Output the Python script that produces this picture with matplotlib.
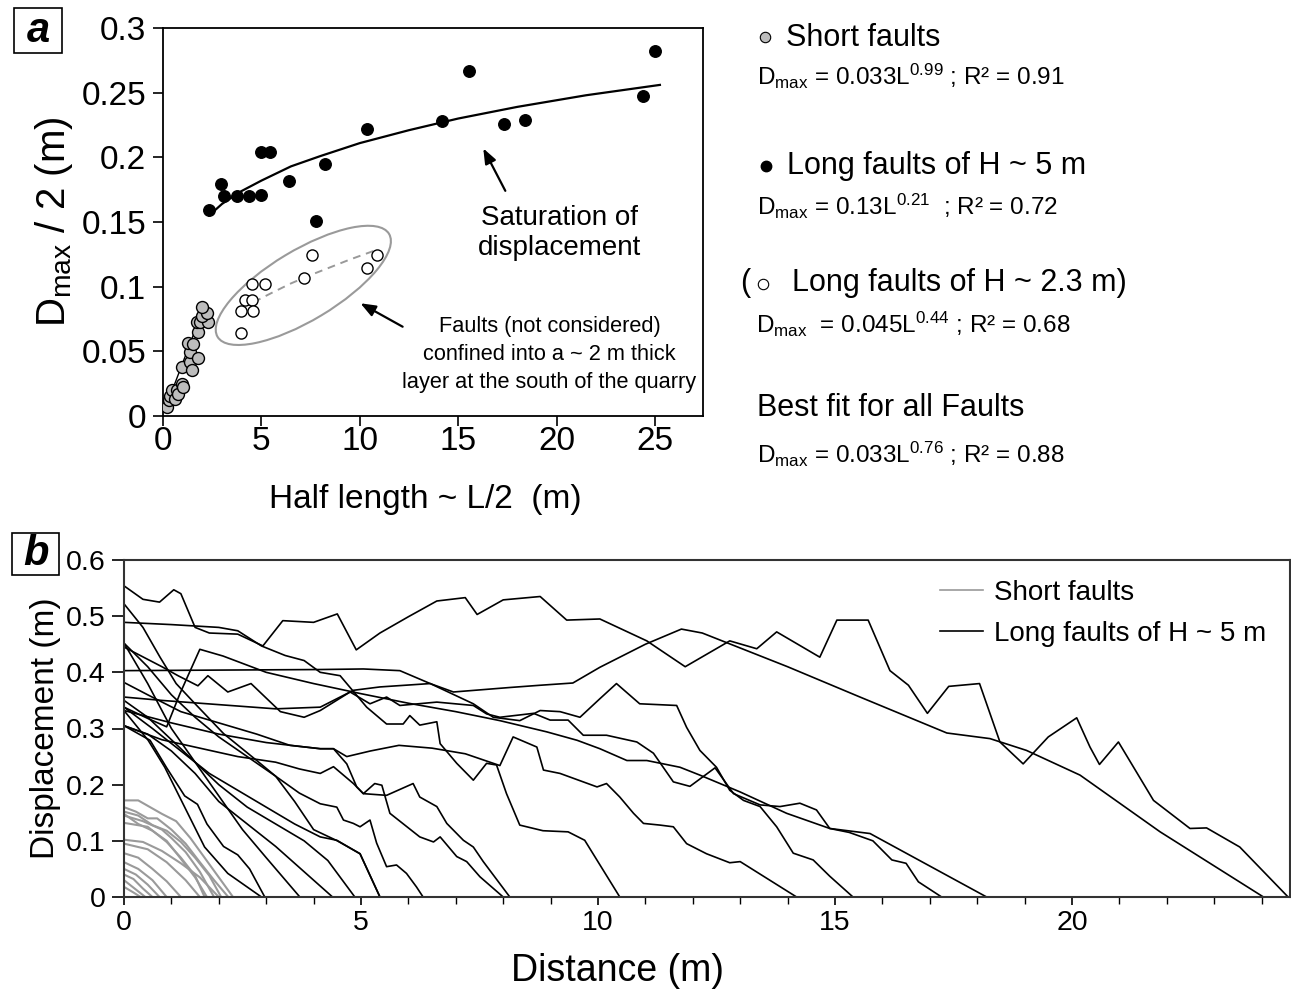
import numpy as np
import matplotlib
matplotlib.use("Agg")
from matplotlib import pyplot as plt
from matplotlib import transforms
from matplotlib.patches import Ellipse, Rectangle
from matplotlib.lines import Line2D
from matplotlib.ticker import MultipleLocator, FormatStrFormatter

plt.rcParams["font.family"] = ["Liberation Sans", "DejaVu Sans"]
plt.rcParams["mathtext.fontset"] = "custom"
plt.rcParams["mathtext.rm"] = "Liberation Sans"
plt.rcParams["mathtext.it"] = "Liberation Sans:italic"

# ---- panel a data (half length L/2, Dmax/2) ----
short_x = [0.19, 0.32, 0.36, 0.44, 0.61, 0.70, 0.78, 0.95, 1.00, 0.95, 1.37, 1.46,
           1.37, 1.76, 1.29, 1.54, 1.80, 1.71, 1.88, 2.30, 1.97, 2.22, 1.97]
short_y = [0.0072, 0.0124, 0.0155, 0.0201, 0.0129, 0.0201, 0.0170, 0.0245, 0.0222,
           0.0381, 0.0420, 0.0356, 0.0497, 0.0446, 0.0562, 0.0557, 0.0652, 0.0724,
           0.0729, 0.0724, 0.0773, 0.0794, 0.0845]
short_fit_x = [0.15, 2.05]
short_fit_y = [0.007, 0.083]

long5_x = [2.34, 2.93, 3.10, 3.74, 4.35, 4.96, 4.96, 5.44, 6.42, 8.21, 7.77, 10.38,
           14.19, 15.57, 17.34, 18.39, 24.37, 25.02]
long5_y = [0.159, 0.179, 0.170, 0.170, 0.170, 0.171, 0.204, 0.204, 0.182, 0.195,
           0.1505, 0.222, 0.228, 0.2666, 0.226, 0.2287, 0.2477, 0.2823]
long5_fit_x = [2.34, 3, 4, 5, 6.5, 8, 10, 12.5, 15, 18, 21.5, 25.25]
long5_fit_y = [0.155, 0.164, 0.174, 0.182, 0.193, 0.201, 0.211, 0.221, 0.230,
               0.239, 0.248, 0.256]

long23_x = [3.95, 3.96, 4.15, 4.54, 4.59, 4.54, 5.18, 7.16, 7.59, 10.35, 10.89]
long23_y = [0.0645, 0.0815, 0.0897, 0.0897, 0.0815, 0.1023, 0.1023, 0.1064,
            0.1247, 0.1147, 0.1247]
long23_fit_x = [4.6, 5.5, 6.5, 7.5, 8.5, 9.5, 10.9]
long23_fit_y = [0.088, 0.095, 0.1025, 0.109, 0.115, 0.121, 0.1287]

# ---- panel b data: displacement profiles (distance m, displacement m) ----
short_profiles = [
    ([0, 0.3, 0.55, 0.8, 1.1, 1.4, 1.7, 2.0, 2.3], [0.172, 0.172, 0.160, 0.148, 0.135, 0.105, 0.070, 0.035, 0.0]),
    ([0, 0.25, 0.5, 0.7, 1.0, 1.3, 1.6, 1.9, 2.2], [0.160, 0.152, 0.140, 0.140, 0.120, 0.095, 0.062, 0.030, 0.0]),
    ([0, 0.3, 0.6, 0.9, 1.2, 1.5, 1.8, 2.05], [0.152, 0.145, 0.128, 0.118, 0.098, 0.070, 0.038, 0.0]),
    ([0, 0.4, 0.8, 1.0, 1.3, 1.6, 1.9], [0.145, 0.135, 0.120, 0.105, 0.080, 0.045, 0.0]),
    ([0, 0.3, 0.6, 0.9, 1.2, 1.5, 1.75], [0.148, 0.130, 0.118, 0.100, 0.068, 0.035, 0.0]),
    ([0, 0.5, 0.9, 1.2, 1.5, 1.7], [0.132, 0.125, 0.098, 0.070, 0.038, 0.0]),
    ([0, 0.4, 0.8, 1.2, 1.6, 2.0], [0.102, 0.098, 0.082, 0.060, 0.035, 0.0]),
    ([0, 0.5, 0.9, 1.3, 1.6], [0.095, 0.085, 0.062, 0.030, 0.0]),
    ([0, 0.3, 0.6, 0.9, 1.2], [0.078, 0.070, 0.050, 0.028, 0.0]),
    ([0, 0.3, 0.6, 0.9], [0.062, 0.050, 0.030, 0.0]),
    ([0, 0.25, 0.5, 0.75], [0.050, 0.040, 0.022, 0.0]),
    ([0, 0.2, 0.4, 0.6], [0.040, 0.032, 0.015, 0.0]),
    ([0, 0.15, 0.3, 0.45], [0.030, 0.020, 0.010, 0.0]),
    ([0, 0.2, 0.35], [0.018, 0.008, 0.0]),
]

long_profiles = [
    ([0, 0.4, 0.75, 1.05, 1.2, 1.5, 1.8, 2.4, 2.93, 3.35, 4.0, 4.5, 4.9, 5.4, 6.0, 6.6,
      7.2, 7.45, 8.0, 8.78, 9.34, 10.04, 11.03, 11.84, 12.78, 13.35, 13.77, 14.68,
      15.04, 15.70, 16.16, 16.55, 16.95, 17.4, 18.05, 18.48, 18.97, 19.5, 20.10,
      20.38, 20.58, 20.98, 21.72, 22.49, 22.84, 23.54, 24.56],
     [0.554, 0.530, 0.525, 0.547, 0.540, 0.480, 0.470, 0.468, 0.447, 0.492, 0.489,
      0.504, 0.440, 0.470, 0.499, 0.527, 0.533, 0.503, 0.529, 0.535, 0.493, 0.495,
      0.456, 0.410, 0.456, 0.442, 0.472, 0.427, 0.493, 0.493, 0.403, 0.377, 0.327,
      0.375, 0.380, 0.276, 0.237, 0.285, 0.319, 0.267, 0.236, 0.276, 0.172, 0.122,
      0.123, 0.089, 0.0]),
    ([0, 0.4, 0.76, 1.1, 1.5, 2.1, 2.8, 3.2, 3.6, 4.0, 4.5, 4.98, 5.4],
     [0.522, 0.480, 0.427, 0.380, 0.344, 0.291, 0.243, 0.215, 0.170, 0.120, 0.100, 0.077, 0.0]),
    ([0, 1.0, 2.0, 2.4, 2.9, 3.4, 3.8, 4.14, 4.56, 5.12, 5.54, 5.89, 6.03, 6.24, 6.60,
      6.67, 7.02, 7.37, 7.65, 7.86, 8.07, 8.35, 8.84, 9.37, 9.72, 10.46],
     [0.489, 0.485, 0.480, 0.474, 0.447, 0.430, 0.421, 0.400, 0.394, 0.338, 0.308,
      0.308, 0.323, 0.306, 0.312, 0.273, 0.238, 0.208, 0.238, 0.235, 0.184, 0.128,
      0.118, 0.116, 0.101, 0.0]),
    ([0, 2, 4.14, 5.05, 5.82, 6.46, 6.95, 8.14, 8.78, 9.47, 10.04, 11.0, 11.76, 12.2,
      12.71, 14.0, 15.5, 17.36, 18.27, 19.04, 20.17, 21.86, 24.04],
     [0.403, 0.404, 0.405, 0.406, 0.403, 0.380, 0.365, 0.373, 0.377, 0.381, 0.409,
      0.450, 0.477, 0.470, 0.453, 0.410, 0.357, 0.292, 0.282, 0.261, 0.217, 0.116, 0.0]),
    ([0, 0.5, 0.9, 1.18, 1.6, 2.09, 3, 4, 5, 6, 7, 7.93, 8.92, 9.56, 10.04, 10.61, 11.03,
      11.73, 12.15, 13.0, 13.98, 14.89, 15.74, 18.2],
     [0.338, 0.318, 0.303, 0.362, 0.441, 0.429, 0.400, 0.380, 0.362, 0.345, 0.330, 0.314,
      0.294, 0.279, 0.264, 0.243, 0.243, 0.231, 0.217, 0.187, 0.149, 0.122, 0.113, 0.0]),
    ([0, 0.8, 1.14, 1.56, 1.77, 2.19, 2.68, 3.3, 3.8, 4.14, 4.77, 5.19, 5.54, 5.82, 6.6,
      7.37, 7.65, 7.93, 8.64, 8.99, 9.37, 9.69, 10.18, 10.82, 11.17, 11.59, 11.94,
      12.47, 12.86, 13.42, 13.84, 14.26, 14.61, 14.89, 15.3, 15.8, 16.2, 16.5, 16.76, 17.25],
     [0.445, 0.41, 0.394, 0.376, 0.394, 0.365, 0.380, 0.33, 0.32, 0.332, 0.365, 0.344,
      0.356, 0.341, 0.347, 0.341, 0.326, 0.320, 0.327, 0.315, 0.315, 0.288, 0.288,
      0.276, 0.256, 0.205, 0.197, 0.230, 0.184, 0.164, 0.161, 0.167, 0.155, 0.122,
      0.115, 0.100, 0.066, 0.060, 0.027, 0.0]),
    ([0, 0.8, 1.6, 2.4, 3.2, 4.14, 4.84, 5.4, 6.46, 7.37, 7.79, 8.35, 8.78, 9.2, 9.62,
      10.04, 10.39, 10.88, 11.66, 11.87, 12.15, 12.5, 12.78, 13.07, 13.42, 13.77,
      14.12, 14.54, 14.89, 15.38],
     [0.356, 0.35, 0.345, 0.34, 0.335, 0.338, 0.368, 0.374, 0.380, 0.344, 0.320, 0.314,
      0.332, 0.330, 0.320, 0.353, 0.380, 0.344, 0.341, 0.302, 0.261, 0.231, 0.190,
      0.172, 0.161, 0.125, 0.078, 0.066, 0.037, 0.0]),
    ([0, 1, 2, 3, 4.14, 4.42, 4.7, 5.2, 5.8, 6.5, 7.2, 7.93, 8.21, 8.71, 8.85, 9.2,
      9.98, 10.18, 10.46, 10.75, 10.96, 11.31, 11.59, 11.87, 12.29, 12.78, 13.0, 14.19],
     [0.332, 0.31, 0.29, 0.275, 0.264, 0.264, 0.25, 0.26, 0.27, 0.265, 0.255, 0.234,
      0.285, 0.267, 0.226, 0.220, 0.196, 0.202, 0.178, 0.149, 0.131, 0.128, 0.125,
      0.095, 0.077, 0.061, 0.063, 0.0]),
    ([0, 0.8, 1.6, 2.4, 3.2, 3.7, 4.14, 4.42, 4.84, 5.05, 5.54, 6.10, 6.24, 6.60, 6.81,
      7.16, 7.37, 7.58, 8.14],
     [0.305, 0.28, 0.265, 0.25, 0.24, 0.228, 0.220, 0.232, 0.202, 0.184, 0.181, 0.202,
      0.178, 0.161, 0.131, 0.101, 0.089, 0.063, 0.0]),
    ([0, 0.5, 1.2, 2, 2.8, 3.5, 4.14, 4.42, 4.70, 4.91, 5.05, 5.29, 5.44, 5.61, 6.24,
      6.53, 6.67, 7.02, 7.23, 7.51, 8.0],
     [0.382, 0.36, 0.33, 0.31, 0.29, 0.27, 0.264, 0.264, 0.237, 0.196, 0.184, 0.202,
      0.199, 0.149, 0.107, 0.098, 0.107, 0.072, 0.063, 0.036, 0.0]),
    ([0, 0.5, 1.0, 1.5, 2.0, 2.6, 3.2, 3.7, 4.14, 4.49, 4.63, 4.84, 4.98, 5.19, 5.33,
      5.54, 5.75, 5.96, 6.17, 6.31],
     [0.452, 0.41, 0.36, 0.32, 0.285, 0.25, 0.215, 0.185, 0.166, 0.160, 0.137, 0.131,
      0.125, 0.137, 0.096, 0.054, 0.057, 0.042, 0.018, 0.0]),
    ([0, 0.6, 1.2, 1.8, 2.4, 3.0, 3.6, 4.14, 4.49, 4.98, 5.40],
     [0.338, 0.30, 0.26, 0.22, 0.19, 0.16, 0.13, 0.107, 0.101, 0.077, 0.0]),
    ([0, 0.5, 1.0, 1.5, 2.0, 2.6, 3.2, 3.8, 4.3, 4.87],
     [0.350, 0.32, 0.28, 0.24, 0.20, 0.16, 0.13, 0.10, 0.065, 0.0]),
    ([0, 0.5, 1.0, 1.5, 2.0, 2.6, 3.2, 3.8, 4.4],
     [0.305, 0.29, 0.26, 0.22, 0.17, 0.13, 0.09, 0.045, 0.0]),
    ([0, 0.5, 1.0, 1.5, 2.0, 2.5, 3.0, 3.71],
     [0.452, 0.38, 0.30, 0.24, 0.18, 0.12, 0.07, 0.0]),
    ([0, 0.51, 0.86, 1.28, 1.70, 2.19, 2.90],
     [0.332, 0.279, 0.231, 0.160, 0.089, 0.042, 0.0]),
    ([0, 0.55, 0.9, 1.28, 1.55, 1.75, 2.1, 2.4, 2.65, 2.97],
     [0.305, 0.279, 0.23, 0.18, 0.165, 0.13, 0.09, 0.075, 0.05, 0.0]),
]

W, H = 1291, 991
fig = plt.figure(figsize=(W / 100, H / 100), dpi=100)


def fig_rect(left, top, right, bottom):
    return [left / W, 1 - bottom / H, (right - left) / W, (bottom - top) / H]


# ================= panel a =================
ax = fig.add_axes(fig_rect(163, 28, 703, 416))
ax.plot(short_fit_x, short_fit_y, color="black", lw=1.0, zorder=2)
ax.plot(short_x, short_y, "o", ms=8.6, mfc="#bdbdbd", mec="black", mew=1.0, zorder=3)
ax.plot(long5_fit_x, long5_fit_y, color="black", lw=1.6, zorder=2)
ax.plot(long5_x, long5_y, "o", ms=8.3, mfc="black", mec="black", zorder=3)
ax.plot(long23_fit_x, long23_fit_y, color="#999999", lw=1.4, ls=(0, (4, 3)), zorder=2)
ax.plot(long23_x, long23_y, "o", ms=8.0, mfc="white", mec="black", mew=1.0, zorder=3)

ax.set_xlim(0, 27.44)
ax.set_ylim(0, 0.3)
ax.xaxis.set_major_locator(MultipleLocator(5))
ax.yaxis.set_major_locator(MultipleLocator(0.05))
ax.yaxis.set_major_formatter(FormatStrFormatter("%g"))
ax.tick_params(direction="out", length=7, width=1.2, labelsize=24, pad=5,
               top=False, right=False)
ax.tick_params(axis="x", pad=0)
for s in ax.spines.values():
    s.set_linewidth(1.3)
ax.set_xlabel("Half length ~ L/2  (m)", fontsize=24, labelpad=19)
ax.xaxis.set_label_coords(0.485, -0.175)
ax.set_ylabel(r"D$_{\mathrm{max}}$ / 2 (m)", fontsize=29, labelpad=5)

# grey ellipse around the H ~ 2.3 m faults (size in inches, centred in data)
ell = Ellipse((0, 0), width=2.0, height=0.70, angle=31, fill=False,
              edgecolor="#9a9a9a", lw=1.5,
              transform=fig.dpi_scale_trans + transforms.ScaledTranslation(7.13, 0.101, ax.transData))
ax.add_artist(ell)

ax.annotate("", xy=(16.21, 0.2088), xytext=(17.46, 0.1722),
            arrowprops=dict(arrowstyle="-|>,head_length=0.9,head_width=0.35", color="black", lw=1.6))
ax.text(20.15, 0.1415, "Saturation of\ndisplacement", fontsize=20, ha="center", va="center",
        linespacing=1.2)
ax.annotate("", xy=(9.91, 0.0882), xytext=(12.3, 0.068),
            arrowprops=dict(arrowstyle="-|>,head_length=0.9,head_width=0.35", color="black", lw=1.6))
ax.text(19.64, 0.0476, "Faults (not considered)\nconfined into a ~ 2 m thick\nlayer at the south of the quarry",
        fontsize=15.7, ha="center", va="center", linespacing=1.45)

# ================= right-hand legend text =================
ov = fig.add_axes([0, 0, 1, 1], zorder=-1)
ov.set_xlim(0, W)
ov.set_ylim(H, 0)
ov.axis("off")
ov.plot([765], [37], "o", ms=7.5, mfc="#bdbdbd", mec="black", mew=0.8)
ov.plot([766], [166], "o", ms=7.5, mfc="black", mec="black")
ov.plot([763], [284], "o", ms=7.5, mfc="white", mec="black", mew=0.8)

ov.text(786, 38, "Short faults", fontsize=22, va="center")
ov.text(757, 76, r"D$_{\mathrm{max}}$ = 0.033L$^{0.99}$ ; R² = 0.91", fontsize=17.5, va="center")
ov.text(787, 166, "Long faults of H ~ 5 m", fontsize=22, va="center")
ov.text(757, 206, r"D$_{\mathrm{max}}$ = 0.13L$^{0.21}$  ; R² = 0.72", fontsize=17.5, va="center")
ov.text(740, 283, "(", fontsize=22, va="center")
ov.text(792, 283, "Long faults of H ~ 2.3 m)", fontsize=22, va="center")
ov.text(756, 324, r"D$_{\mathrm{max}}$  = 0.045L$^{0.44}$ ; R² = 0.68", fontsize=17.5, va="center")
ov.text(757, 408, "Best fit for all Faults", fontsize=22, va="center")
ov.text(757, 454, r"D$_{\mathrm{max}}$ = 0.033L$^{0.76}$ ; R² = 0.88", fontsize=17.5, va="center")

# panel letters in boxes
ov.add_patch(Rectangle((14, 8), 48, 45, fill=False, ec="black", lw=1.2))
ov.text(38, 31, "a", fontsize=30, fontweight="bold", fontstyle="italic", ha="center", va="center")
ov.add_patch(Rectangle((12, 533), 47, 42, fill=False, ec="black", lw=1.2))
ov.text(35.5, 554, "b", fontsize=30, fontweight="bold", fontstyle="italic", ha="center", va="center")

# ================= panel b =================
bx = fig.add_axes(fig_rect(124, 560, 1290, 897))
for xs, ys in short_profiles:
    bx.plot(xs, ys, color="#9a9a9a", lw=1.5, solid_joinstyle="round")
for xs, ys in long_profiles:
    bx.plot(xs, ys, color="black", lw=1.2, solid_joinstyle="round")

bx.set_xlim(0, 24.6)
bx.set_ylim(0, 0.6)
bx.xaxis.set_major_locator(MultipleLocator(5))
bx.xaxis.set_minor_locator(MultipleLocator(1))
bx.yaxis.set_major_locator(MultipleLocator(0.1))
bx.yaxis.set_major_formatter(FormatStrFormatter("%g"))
bx.tick_params(which="major", direction="out", length=9, width=1.2, labelsize=20.5, pad=4,
               top=False, right=False)
bx.tick_params(axis="x", which="major", length=6, pad=3)
bx.tick_params(which="minor", direction="out", length=5, width=1.0, top=False, right=False)
for s in bx.spines.values():
    s.set_linewidth(1.5)
    s.set_color("#333333")
bx.set_xlabel("Distance (m)", fontsize=27, labelpad=15)
bx.xaxis.set_label_coords(0.423, -0.165)
bx.set_ylabel("Displacement (m)", fontsize=24, labelpad=4)

handles = [Line2D([], [], color="#9a9a9a", lw=1.2), Line2D([], [], color="black", lw=1.2)]
bx.legend(handles, ["Short faults", "Long faults of H ~ 5 m"], loc="upper left",
          frameon=False, fontsize=20, handlelength=1.55, handletextpad=0.4,
          labelspacing=0.53, borderpad=0, borderaxespad=0,
          bbox_to_anchor=(0.700, 0.94))

fig.savefig("out.png", dpi=100)
